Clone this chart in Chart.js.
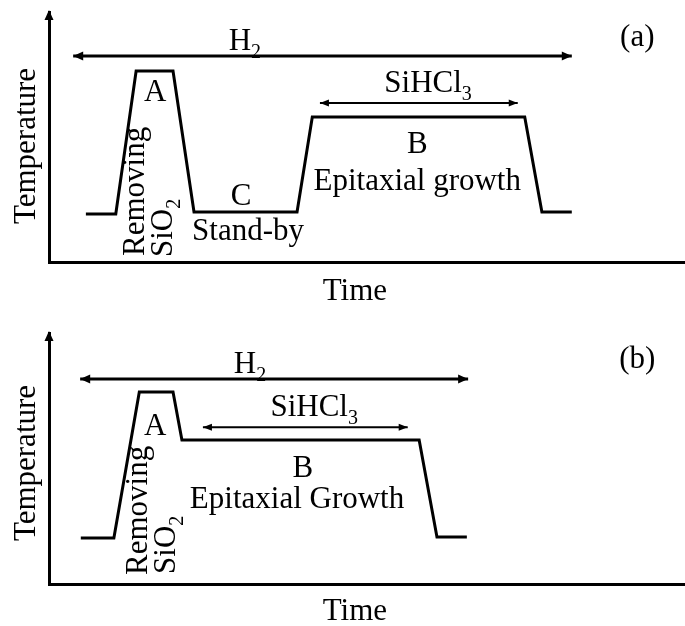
<!DOCTYPE html>
<html>
<head>
<meta charset="utf-8">
<script src="https://cdn.jsdelivr.net/npm/chart.js@4"></script>
<style>
  html, body { margin: 0; padding: 0; background: #fff; }
  canvas { position: absolute; left: 0; }
</style>
</head>
<body>
<canvas id="panelA" width="685" height="310" style="top:0"></canvas>
<canvas id="panelB" width="685" height="316" style="top:310px"></canvas>
<script>
// ---- Process (a): oxide removal, stand-by, then epitaxial growth ----
const timeA = [5.8, 10.5, 13.7, 19.5, 22.8, 39.0, 41.4, 74.8, 77.5, 82.2];
const tempA = [19.2, 19.2, 76.4, 76.4, 20.0, 20.0, 58.0, 58.0, 20.0, 20.0];
const h2TimeA = [3.8, 82.2];
const h2LevelA = 82.4;
const sihcl3TimeA = [42.6, 73.7];
const sihcl3LevelA = 63.6;

// ---- Process (b): oxide removal followed directly by growth ----
const timeB = [5.0, 10.2, 14.2, 19.5, 20.9, 58.2, 61.0, 65.7];
const tempB = [18.3, 18.3, 76.5, 76.5, 57.4, 57.4, 18.7, 18.7];
const h2TimeB = [4.9, 65.9];
const h2LevelB = 81.7;
const sihcl3TimeB = [24.2, 56.4];
const sihcl3LevelB = 62.5;

// ---- Texts (rich parts: [text, isSubscript]) ----
const axisTitleX = 'Time';
const axisTitleY = 'Temperature';
const gasH2 = [['H', false], ['2', true]];
const gasSiHCl3 = [['SiHCl', false], ['3', true]];
const stepRemoving = [['Removing', false]];
const stepSiO2 = [['SiO', false], ['2', true]];

const FONT = '"Liberation Serif", "Times New Roman", serif';
const SIZE = 31;

function points(xs, ys) { return xs.map((x, i) => ({ x, y: ys[i] })); }
function flat(xs, level) { return xs.map(x => ({ x, y: level })); }

function triangle(ctx, tx, ty, dx, dy, len, half) {
  // tip at (tx,ty), pointing along (dx,dy)
  const bx = tx - dx * len, by = ty - dy * len;
  const nx = -dy, ny = dx;
  ctx.beginPath();
  ctx.moveTo(tx, ty);
  ctx.lineTo(bx + nx * half, by + ny * half);
  ctx.lineTo(bx - nx * half, by - ny * half);
  ctx.closePath();
  ctx.fill();
}

function drawRich(ctx, parts, px, py, align, rotate) {
  const main = SIZE + 'px ' + FONT;
  const sub = Math.round(SIZE * 0.66) + 'px ' + FONT;
  let w = 0;
  parts.forEach(([t, s]) => { ctx.font = s ? sub : main; w += ctx.measureText(t).width; });
  ctx.save();
  ctx.translate(px, py);
  if (rotate) ctx.rotate(-Math.PI / 2);
  ctx.textBaseline = 'alphabetic';
  ctx.textAlign = 'left';
  let cx = align === 'center' ? -w / 2 : 0;
  parts.forEach(([t, s]) => {
    ctx.font = s ? sub : main;
    ctx.fillText(t, cx, s ? SIZE * 0.25 : 0);
    cx += ctx.measureText(t).width;
  });
  ctx.restore();
}

const overlay = {
  id: 'overlay',
  afterDatasetsDraw(chart, args, opts) {
    const { ctx, scales: { x, y }, chartArea } = chart;
    ctx.save();
    ctx.fillStyle = '#000';
    // arrowhead on the temperature axis
    triangle(ctx, chartArea.left, chartArea.top - 2, 0, -1, 10, 4.5);
    // arrowheads on both ends of the gas-flow spans
    chart.data.datasets.forEach((ds, i) => {
      if (!ds.arrowHead) return;
      const pts = chart.getDatasetMeta(i).data;
      const a = pts[0], b = pts[pts.length - 1];
      const [len, half] = ds.arrowHead;
      triangle(ctx, a.x, a.y, -1, 0, len, half);
      triangle(ctx, b.x, b.y, 1, 0, len, half);
    });
    // annotations
    (opts.labels || []).forEach(l => {
      drawRich(ctx, typeof l.text === 'string' ? [[l.text, false]] : l.text,
        x.getPixelForValue(l.x), y.getPixelForValue(l.y), l.align || 'center', !!l.rotate);
    });
    ctx.restore();
  }
};

function makeChart(id, profile, h2, sihcl3, pad, labels) {
  return new Chart(document.getElementById(id), {
    type: 'line',
    data: {
      datasets: [
        { data: profile, borderColor: '#000', borderWidth: 3, pointRadius: 0, tension: 0, borderJoinStyle: 'miter' },
        { data: h2, borderColor: '#000', borderWidth: 3, pointRadius: 0, arrowHead: [10, 4.5] },
        { data: sihcl3, borderColor: '#000', borderWidth: 2, pointRadius: 0, arrowHead: [9, 3.5] }
      ]
    },
    options: {
      responsive: false,
      animation: false,
      layout: { padding: pad },
      scales: {
        x: {
          type: 'linear', min: 0, max: 100,
          ticks: { display: false },
          grid: { display: false, drawTicks: false },
          border: { display: true, color: '#000', width: 3 }
        },
        y: {
          type: 'linear', min: 0, max: 100,
          ticks: { display: false },
          grid: { display: false, drawTicks: false },
          border: { display: true, color: '#000', width: 3 }
        }
      },
      plugins: {
        legend: { display: false },
        tooltip: { enabled: false },
        overlay: { labels }
      }
    },
    plugins: [overlay]
  });
}

makeChart('panelA',
  points(timeA, tempA), flat(h2TimeA, h2LevelA), flat(sihcl3TimeA, sihcl3LevelA),
  { left: 49, top: 12, right: 0, bottom: 48 },
  [
    { text: gasH2, x: 30.8, y: 84.8 },
    { text: '(a)', x: 92.5, y: 86.4 },
    { text: gasSiHCl3, x: 59.6, y: 68.0 },
    { text: 'A', x: 16.7, y: 64.4 },
    { text: 'B', x: 57.9, y: 43.6 },
    { text: 'Epitaxial growth', x: 57.9, y: 28.8 },
    { text: 'C', x: 30.2, y: 22.8 },
    { text: 'Stand-by', x: 31.3, y: 8.8 },
    { text: stepRemoving, x: 15.0, y: 2.4, align: 'left', rotate: true },
    { text: stepSiO2, x: 19.4, y: 2.0, align: 'left', rotate: true },
    { text: axisTitleY, x: -2.2, y: 46.4, rotate: true },
    { text: axisTitleX, x: 48.1, y: -15.2 }
  ]);

makeChart('panelB',
  points(timeB, tempB), flat(h2TimeB, h2LevelB), flat(sihcl3TimeB, sihcl3LevelB),
  { left: 49, top: 23, right: 0, bottom: 42 },
  [
    { text: gasH2, x: 31.6, y: 84.1 },
    { text: '(b)', x: 92.5, y: 86.1 },
    { text: gasSiHCl3, x: 41.7, y: 66.9 },
    { text: 'A', x: 16.7, y: 59.4 },
    { text: 'B', x: 39.9, y: 42.6 },
    { text: 'Epitaxial Growth', x: 39.0, y: 30.3 },
    { text: stepRemoving, x: 15.4, y: 3.6, align: 'left', rotate: true },
    { text: stepSiO2, x: 19.8, y: 4.0, align: 'left', rotate: true },
    { text: axisTitleY, x: -2.2, y: 48.2, rotate: true },
    { text: axisTitleX, x: 48.1, y: -14.3 }
  ]);
</script>
</body>
</html>
